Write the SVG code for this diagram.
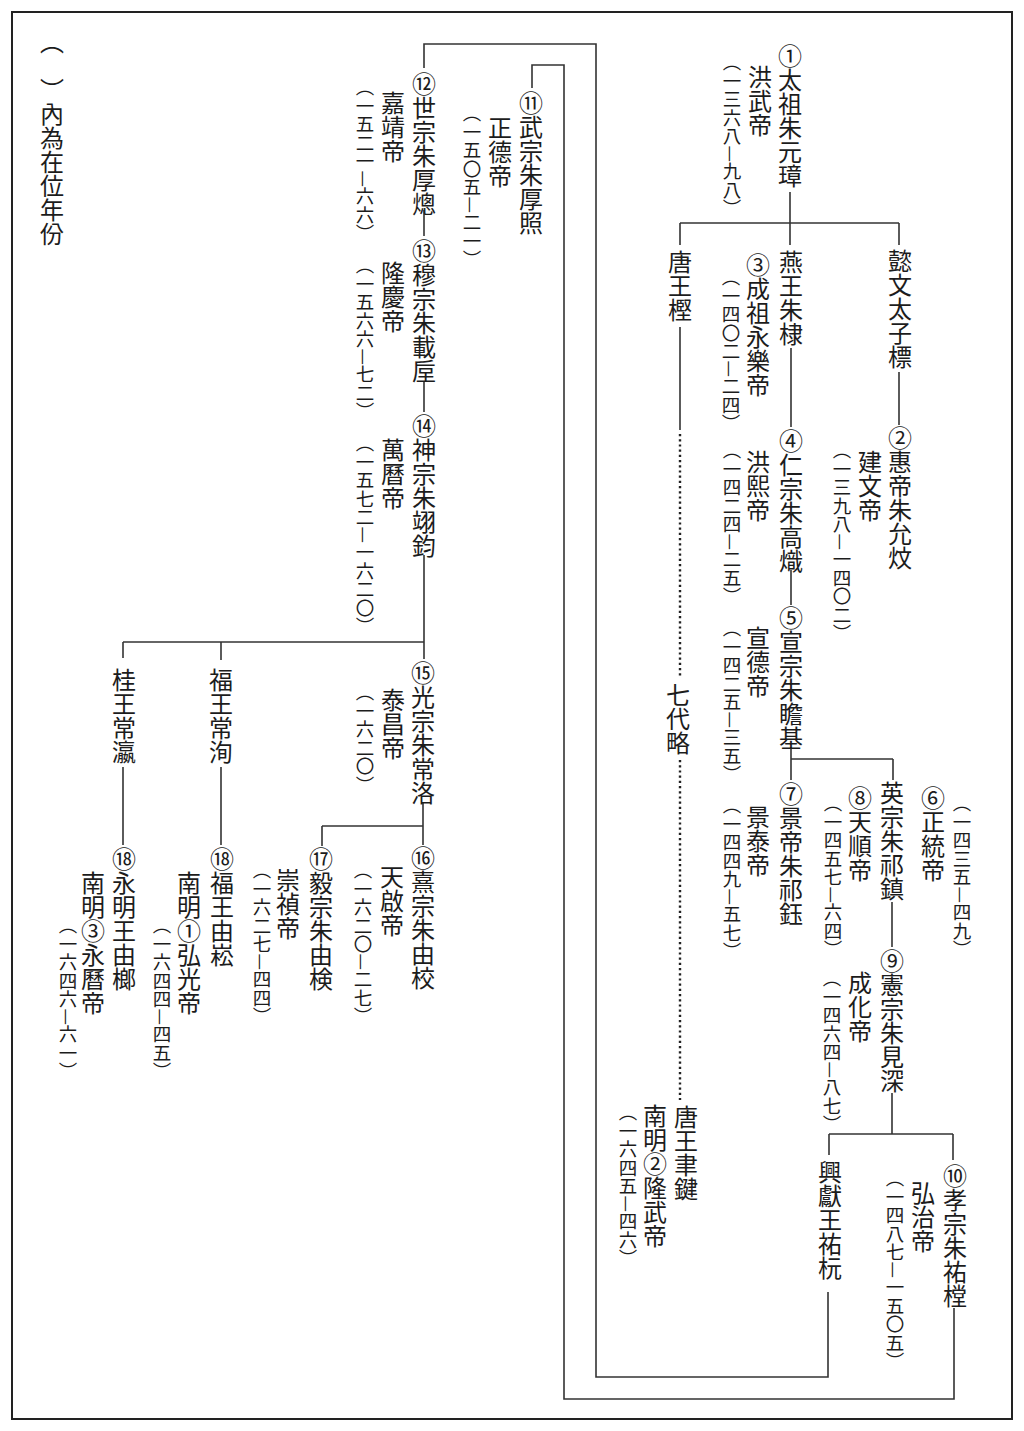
<svg xmlns="http://www.w3.org/2000/svg" width="1024" height="1431" viewBox="0 0 1024 1431">
<style>
text{font-family:"Noto Sans CJK JP","Noto Sans CJK TC",sans-serif;fill:#1c1c1c;writing-mode:vertical-rl;}
.n{font-size:24px;}
.y{font-size:18.5px;}
.c line,.c path{stroke:#333;stroke-width:1.6;fill:none;}
.c .dot{stroke:#222;stroke-dasharray:2.2 3;stroke-width:2.4;}
</style>
<rect x="12" y="12" width="1000" height="1407" fill="#fff" stroke="#222" stroke-width="2"/>
<g id="legend"><text class="n" x="52" y="30">（　）內為在位年份</text></g>
<g class="c" id="connectors">
<line x1="790" y1="192" x2="790" y2="245"/>
<line x1="680" y1="223" x2="899" y2="223"/>
<line x1="680" y1="223" x2="680" y2="245"/>
<line x1="899" y1="223" x2="899" y2="245"/>
<line x1="680" y1="327" x2="680" y2="430"/>
<line class="dot" x1="680" y1="434" x2="680" y2="678"/>
<line class="dot" x1="680" y1="760" x2="680" y2="1100"/>
<line x1="791" y1="348" x2="791" y2="427"/>
<line x1="899" y1="372" x2="899" y2="425"/>
<line x1="791" y1="570" x2="791" y2="605"/>
<line x1="791" y1="747" x2="791" y2="780"/>
<line x1="791" y1="759" x2="893" y2="759"/>
<line x1="893" y1="759" x2="893" y2="780"/>
<line x1="892" y1="902" x2="892" y2="947"/>
<line x1="892" y1="1093" x2="892" y2="1134"/>
<line x1="829" y1="1134" x2="953" y2="1134"/>
<line x1="829" y1="1134" x2="829" y2="1155"/>
<line x1="953" y1="1134" x2="953" y2="1160"/>
<path d="M828 1292V1377H596V44H424V68"/>
<path d="M954 1308V1399H564V65H532V88"/>
<line x1="424" y1="210" x2="424" y2="236"/>
<line x1="424" y1="382" x2="424" y2="412"/>
<line x1="424" y1="555" x2="424" y2="659"/>
<line x1="123" y1="642" x2="424" y2="642"/>
<line x1="123" y1="642" x2="123" y2="658"/>
<line x1="221" y1="642" x2="221" y2="660"/>
<line x1="123" y1="767" x2="123" y2="845"/>
<line x1="221" y1="767" x2="221" y2="845"/>
<line x1="423" y1="803" x2="423" y2="845"/>
<line x1="322" y1="826" x2="423" y2="826"/>
<line x1="322" y1="826" x2="322" y2="846"/>
</g>
<g id="label-qidai"><text class="n" x="678" y="683">七代略</text></g>
<g id="node-taizu">
<text class="n" x="790" y="44">①太祖朱元璋</text>
<text class="n" x="760" y="65">洪武帝</text>
<text class="y" x="732" y="53">（一三六八—九八）</text>
</g>
<g id="node-tangwang-jing"><text class="n" x="680" y="250">唐王樫</text></g>
<g id="node-yanwang">
<text class="n" x="791" y="250">燕王朱棣</text>
<text class="n" x="758" y="253">③成祖永樂帝</text>
<text class="y" x="731" y="268">（一四〇二—二四）</text>
</g>
<g id="node-yiwen"><text class="n" x="900" y="249">懿文太子標</text></g>
<g id="node-huidi">
<text class="n" x="900" y="426">②惠帝朱允炆</text>
<text class="n" x="870" y="450">建文帝</text>
<text class="y" x="842" y="441">（一三九八—一四〇二）</text>
</g>
<g id="node-renzong">
<text class="n" x="791" y="429">④仁宗朱高熾</text>
<text class="n" x="758" y="450">洪熙帝</text>
<text class="y" x="732" y="441">（一四二四—二五）</text>
</g>
<g id="node-xuanzong">
<text class="n" x="791" y="606">⑤宣宗朱瞻基</text>
<text class="n" x="758" y="626">宣德帝</text>
<text class="y" x="732" y="619">（一四二五—三五）</text>
</g>
<g id="node-jingdi">
<text class="n" x="791" y="782">⑦景帝朱祁鈺</text>
<text class="n" x="758" y="805">景泰帝</text>
<text class="y" x="732" y="796">（一四四九—五七）</text>
</g>
<g id="node-yingzong">
<text class="n" x="892" y="781">英宗朱祁鎮</text>
<text class="n" x="860" y="786">⑧天順帝</text>
<text class="y" x="833" y="794">（一四五七—六四）</text>
<text class="n" x="933" y="786">⑥正統帝</text>
<text class="y" x="962" y="794">（一四三五—四九）</text>
</g>
<g id="node-xianzong">
<text class="n" x="892" y="949">⑨憲宗朱見深</text>
<text class="n" x="860" y="971">成化帝</text>
<text class="y" x="832" y="969">（一四六四—八七）</text>
</g>
<g id="node-xiaozong">
<text class="n" x="955" y="1164">⑩孝宗朱祐樘</text>
<text class="n" x="923" y="1181">弘治帝</text>
<text class="y" x="895" y="1169">（一四八七—一五〇五）</text>
</g>
<g id="node-xingxian"><text class="n" x="830" y="1160">興獻王祐杬</text></g>
<g id="node-tangwang-yujian">
<text class="n" x="686" y="1105">唐王聿鍵</text>
<text class="n" x="655" y="1104">南明②隆武帝</text>
<text class="y" x="628" y="1103">（一六四五—四六）</text>
</g>
<g id="node-wuzong">
<text class="n" x="531" y="91">⑪武宗朱厚照</text>
<text class="n" x="500" y="116">正德帝</text>
<text class="y" x="472" y="104">（一五〇五—二一）</text>
</g>
<g id="node-shizong">
<text class="n" x="424" y="72">⑫世宗朱厚熜</text>
<text class="n" x="393" y="91">嘉靖帝</text>
<text class="y" x="365" y="78">（一五二一—六六）</text>
</g>
<g id="node-muzong">
<text class="n" x="424" y="239">⑬穆宗朱載垕</text>
<text class="n" x="393" y="261">隆慶帝</text>
<text class="y" x="365" y="256">（一五六六—七二）</text>
</g>
<g id="node-shenzong">
<text class="n" x="424" y="414">⑭神宗朱翊鈞</text>
<text class="n" x="393" y="438">萬曆帝</text>
<text class="y" x="365" y="434">（一五七二—一六二〇）</text>
</g>
<g id="node-guiwang"><text class="n" x="124" y="668">桂王常瀛</text></g>
<g id="node-fuwang"><text class="n" x="221" y="668">福王常洵</text></g>
<g id="node-guangzong">
<text class="n" x="423" y="661">⑮光宗朱常洛</text>
<text class="n" x="393" y="688">泰昌帝</text>
<text class="y" x="365" y="683">（一六二〇）</text>
</g>
<g id="node-xizong">
<text class="n" x="423" y="846">⑯熹宗朱由校</text>
<text class="n" x="392" y="865">天啟帝</text>
<text class="y" x="363" y="861">（一六二〇—二七）</text>
</g>
<g id="node-yizong">
<text class="n" x="321" y="847">⑰毅宗朱由検</text>
<text class="n" x="288" y="868">崇禎帝</text>
<text class="y" x="262" y="861">（一六二七—四四）</text>
</g>
<g id="node-fuwang-yousong">
<text class="n" x="222" y="847">⑱福王由崧</text>
<text class="n" x="189" y="871">南明①弘光帝</text>
<text class="y" x="162" y="916">（一六四四—四五）</text>
</g>
<g id="node-yongming">
<text class="n" x="124" y="847">⑱永明王由榔</text>
<text class="n" x="93" y="871">南明③永曆帝</text>
<text class="y" x="68" y="916">（一六四六—六一）</text>
</g>
</svg>
